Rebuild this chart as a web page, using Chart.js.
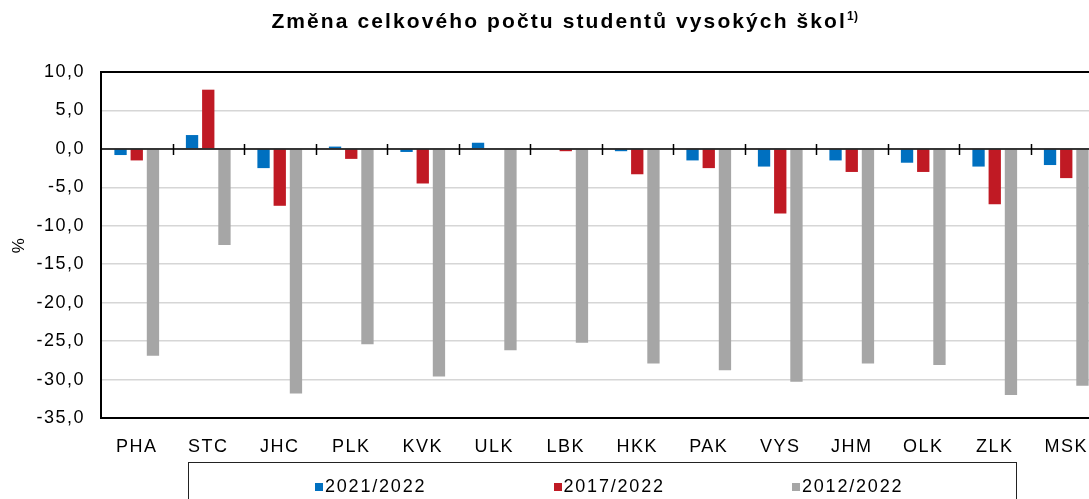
<!DOCTYPE html>
<html>
<head>
<meta charset="utf-8">
<script src="https://cdn.jsdelivr.net/npm/chart.js@4"></script>
<style>
  body { margin: 0; overflow: hidden; background: #fff; font-family: "Liberation Sans", Arial, sans-serif; }
  #wrap { position: relative; width: 1089px; height: 499px; overflow: hidden; }
  #title { position: absolute; top: 9px; left: 0; width: 1130px; text-align: center;
           font-weight: bold; font-size: 21px; letter-spacing: 2.1px; color: #000; }
  #title sup { font-size: 12px; letter-spacing: 0.5px; }
  #chart { position: absolute; left: 0; top: 0; }
  #legend { position: absolute; left: 188px; top: 462px; width: 829px; height: 60px;
            border: 1.5px solid #222; box-sizing: border-box; }
  .item { position: absolute; top: 13px; font-size: 18px; letter-spacing: 1.8px; color: #000; }
  .item i { display: inline-block; width: 8px; height: 8px; margin-right: 2px; vertical-align: 1px; }
</style>
</head>
<body>
<div id="wrap">
  <canvas id="chart" width="1112" height="499"></canvas>
  <div id="title">Změna celkového počtu studentů vysokých škol<sup>1)</sup></div>
  <div id="legend"></div>
</div>
<script>
const regions = ['PHA', 'STC', 'JHC', 'PLK', 'KVK', 'ULK', 'LBK', 'HKK', 'PAK', 'VYS', 'JHM', 'OLK', 'ZLK', 'MSK'];
const change2021 = [-0.8, 1.8, -2.5, 0.3, -0.4, 0.8, 0.0, -0.3, -1.5, -2.3, -1.5, -1.8, -2.3, -2.1];
const change2017 = [-1.5, 7.7, -7.4, -1.3, -4.5, 0.0, -0.3, -3.3, -2.5, -8.4, -3.0, -3.0, -7.2, -3.8];
const change2012 = [-26.9, -12.5, -31.8, -25.4, -29.6, -26.2, -25.2, -27.9, -28.8, -30.3, -27.9, -28.1, -32.0, -30.8];
const seriesNames = ['2021/2022', '2017/2022', '2012/2022'];
const seriesColors = ['#0070c0', '#c01a24', '#a6a6a6'];

// legend in html, so the frame around it can be drawn like in the original
const legendEl = document.getElementById('legend');
seriesNames.forEach((name, i) => {
  const it = document.createElement('div');
  it.className = 'item';
  it.style.left = (126 + i * 238.5) + 'px';
  it.innerHTML = '<i style="background:' + seriesColors[i] + '"></i>' + name;
  legendEl.appendChild(it);
});

// letter spacing for canvas text + zero line with category ticks
const excelLook = {
  id: 'excelLook',
  beforeDraw(chart) {
    chart.ctx.letterSpacing = '1.5px';
  },
  afterDatasetsDraw(chart) {
    const { ctx, chartArea } = chart;
    const x = chart.scales.x, y = chart.scales.y;
    const y0 = y.getPixelForValue(0);
    const step = (x.right - x.left) / regions.length;
    ctx.save();
    ctx.strokeStyle = '#000';
    ctx.lineWidth = 1.5;
    ctx.beginPath();
    ctx.moveTo(chartArea.left, y0);
    ctx.lineTo(chartArea.right, y0);
    for (let i = 1; i < regions.length; i++) {
      const xx = Math.round(x.left + i * step) + 0.5;
      ctx.moveTo(xx, y0 - 5);
      ctx.lineTo(xx, y0 + 6);
    }
    ctx.stroke();
    ctx.lineWidth = 2;
    ctx.strokeRect(chartArea.left, chartArea.top, chartArea.right - chartArea.left, chartArea.bottom - chartArea.top);
    ctx.restore();
  }
};

const tickFont = { family: '"Liberation Sans", Arial, sans-serif', size: 18 };

new Chart(document.getElementById('chart'), {
  type: 'bar',
  data: {
    labels: regions,
    datasets: [change2021, change2017, change2012].map((d, i) => ({
      label: seriesNames[i],
      data: d,
      backgroundColor: seriesColors[i],
      categoryPercentage: 0.68,
      barPercentage: 0.76,
    }))
  },
  options: {
    responsive: false,
    animation: false,
    layout: { padding: { top: 72, right: 10, left: 0, bottom: 0 } },
    plugins: {
      legend: { display: false },
      title: { display: false },
      tooltip: { enabled: false }
    },
    scales: {
      x: {
        grid: { display: false },
        border: { display: false },
        ticks: { color: '#000', font: tickFont, padding: 10, maxRotation: 0 },
        afterFit: s => { s.height = 81; }
      },
      y: {
        min: -35,
        max: 10,
        ticks: {
          stepSize: 5,
          color: '#000',
          font: tickFont,
          padding: 16,
          callback: v => v.toFixed(1).replace('.', ',')
        },
        grid: {
          drawTicks: false,
          color: c => (c.tick && (c.tick.value === 10 || c.tick.value === -35)) ? 'rgba(0,0,0,0)' : '#d6d6d6',
          lineWidth: 1.5
        },
        border: { display: false },
        title: { display: true, text: '%', color: '#000', font: { family: '"Liberation Sans", Arial, sans-serif', size: 17 }, padding: { top: 9, bottom: 0 } },
        afterFit: s => { s.width = 101; }
      }
    }
  },
  plugins: [excelLook]
});
</script>
</body>
</html>
